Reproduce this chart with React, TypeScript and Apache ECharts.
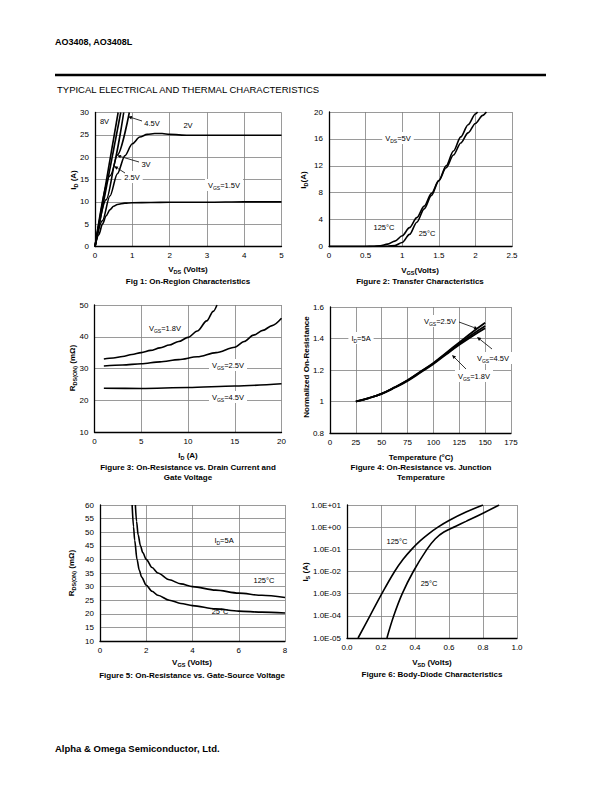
import React, { useEffect, useRef } from "react";
import * as echarts from "echarts";

const FONT = '"Liberation Sans", Arial, Helvetica, sans-serif';

// ---------- Fig 1: On-Region Characteristics (VDS V, ID A) ----------
const f1_8V = [[0, 0], [0.62, 30]];
const f1_4V5 = [[0, 0], [0.69, 30]];
const f1_3V = [[0, 0], [0.4, 15.8], [0.77, 30]];
const f1_2V5 = [[0, 0], [0.3, 10.5], [0.6, 20.5], [0.92, 30]];
const f1_2V = [[0, 0], [0.2, 5.8], [0.4, 11.3], [0.6, 16.3], [0.8, 20.3], [1.0, 23], [1.2, 24.5], [1.4, 25.1], [1.6, 25.3], [1.8, 25.3], [2.0, 25.1], [2.5, 24.9], [3, 24.9], [4, 24.9], [5, 24.9]];
const f1_1V5 = [[0, 0], [0.1, 2.6], [0.2, 5], [0.3, 6.9], [0.4, 8.2], [0.5, 9], [0.6, 9.4], [0.8, 9.7], [1.0, 9.8], [1.5, 9.85], [2, 9.9], [3, 9.9], [4, 10], [5, 10]];

// ---------- Fig 2: Transfer Characteristics (VGS V, ID A) ----------
const f2_25C = [[0, 0], [0.6, 0], [0.8, 0.03], [0.9, 0.15], [1.0, 0.6], [1.1, 1.8], [1.2, 3.6], [1.3, 5.6], [1.4, 7.6], [1.5, 9.8], [1.6, 12.0], [1.7, 14.2], [1.8, 16.3], [1.9, 18.1], [2.0, 19.7], [2.03, 20]];
const f2_125C = [[0, 0], [0.5, 0], [0.6, 0.03], [0.7, 0.12], [0.8, 0.35], [0.9, 0.8], [1.0, 1.6], [1.1, 2.8], [1.2, 4.3], [1.3, 6.0], [1.4, 7.9], [1.5, 9.8], [1.6, 11.7], [1.7, 13.6], [1.8, 15.4], [1.9, 16.9], [2.0, 18.3], [2.1, 19.5], [2.15, 20]];

// ---------- Fig 3: RDS(ON) vs ID (A, mOhm) ----------
const f3_1V8 = [[1, 33], [2, 33.3], [3, 33.8], [4, 34.4], [5, 35], [6, 35.7], [7, 36.5], [8, 37.4], [9, 38.5], [10, 39.8], [11, 41.8], [12, 45], [12.7, 48], [13.1, 50]];
const f3_2V5 = [[1, 30.8], [3, 31.1], [5, 31.5], [7, 32.1], [9, 32.8], [11, 33.7], [13, 35], [15, 36.7], [16, 38.5], [17, 40.5], [18, 42], [19, 43.5], [20, 45.8]];
const f3_4V5 = [[1, 23.8], [5, 23.7], [10, 24], [15, 24.5], [20, 25.2]];

// ---------- Fig 4: Normalized RDS(ON) vs Temperature ----------
const f4_temp = [25, 37.5, 50, 62.5, 75, 87.5, 100, 112.5, 125, 137.5, 150];
const f4_2V5 = [1, 1.022, 1.05, 1.09, 1.135, 1.19, 1.245, 1.31, 1.375, 1.44, 1.5];
const f4_4V5 = [1, 1.022, 1.05, 1.09, 1.135, 1.188, 1.242, 1.305, 1.367, 1.426, 1.48];
const f4_1V8 = [1, 1.021, 1.048, 1.087, 1.131, 1.184, 1.238, 1.3, 1.36, 1.415, 1.465];

// ---------- Fig 5: RDS(ON) vs VGS ----------
const f5_25C = [[1.39, 60], [1.45, 52], [1.5, 47], [1.6, 40], [1.7, 36], [1.8, 33.5], [2, 30.5], [2.25, 28.3], [2.5, 26.8], [3, 25], [3.5, 23.8], [4, 23], [5, 21.8], [6, 21], [7, 20.6], [8, 20.3]];
const f5_125C = [[1.53, 60], [1.58, 54], [1.65, 49], [1.75, 45], [1.85, 42.5], [2, 40], [2.25, 37], [2.5, 35], [3, 32.5], [3.5, 31], [4, 30], [5, 28.7], [6, 27.6], [7, 26.8], [8, 26]];

// ---------- Fig 6: Body-Diode (VSD V, IS A) ----------
const f6_125C = [[0.065, 1e-5], [0.135, 1e-4], [0.205, 1e-3], [0.28, 1e-2], [0.33, 0.0355], [0.38, 0.1], [0.43, 0.24], [0.48, 0.5], [0.535, 1], [0.6, 2], [0.7, 4.8], [0.8, 10]];
const f6_25C = [[0.235, 1e-5], [0.275, 1e-4], [0.325, 1e-3], [0.39, 1e-2], [0.47, 0.1], [0.52, 0.302], [0.57, 0.603], [0.64, 1.1], [0.7, 1.82], [0.8, 4.27], [0.895, 10]];

const GRIDS = [
  { left: 95, top: 112.5, width: 186.5, height: 134 },
  { left: 329, top: 112, width: 183, height: 134.5 },
  { left: 94.5, top: 305, width: 187, height: 127 },
  { left: 330, top: 307, width: 181, height: 126 },
  { left: 100, top: 505, width: 185, height: 136 },
  { left: 347, top: 505, width: 170, height: 133 },
];

const axisCommon = {
  axisLine: { show: true, onZero: false, lineStyle: { color: "#000", width: 1.3 } },
  axisTick: { show: false },
  splitLine: { show: true, lineStyle: { color: "#808080", width: 0.8 } },
  axisLabel: { color: "#000", fontSize: 8, fontFamily: FONT },
};

function xAx(i: number, min: number, max: number, interval: number, extra: any = {}) {
  return { type: "value", gridIndex: i, min, max, interval, ...axisCommon, axisLabel: { ...axisCommon.axisLabel, margin: 5, ...(extra.axisLabel || {}) } };
}
function yAx(i: number, min: number, max: number, interval: number, extra: any = {}) {
  return { type: "value", gridIndex: i, min, max, interval, ...axisCommon, axisLabel: { ...axisCommon.axisLabel, margin: 6, ...(extra.axisLabel || {}) } };
}

function line(i: number, data: any[], width = 1.6, smooth: number = 0.3, mono = true) {
  return {
    type: "line",
    xAxisIndex: i,
    yAxisIndex: i,
    data,
    showSymbol: false,
    symbol: "none",
    smooth,
    smoothMonotone: mono ? "x" : undefined,
    lineStyle: { color: "#000", width },
    z: 3,
    silent: true,
  };
}

const richBold = {
  n: { fontSize: 8, fontWeight: "bold", fontFamily: FONT, fill: "#000", lineHeight: 11 },
  s: { fontSize: 5.5, fontWeight: "bold", fontFamily: FONT, fill: "#000", lineHeight: 6, verticalAlign: "bottom" },
};
const richReg = {
  n: { fontSize: 7.5, fontFamily: FONT, fill: "#000", lineHeight: 10 },
  s: { fontSize: 5, fontFamily: FONT, fill: "#000", lineHeight: 5, verticalAlign: "bottom" },
};

function boldText(x: number, y: number, text: string, rot = 0) {
  return {
    type: "text",
    x,
    y,
    rotation: rot,
    z: 5,
    style: { text, rich: richBold, align: "center", verticalAlign: "middle", fontFamily: FONT, fontSize: 8, fontWeight: "bold", fill: "#000" },
  };
}
function ann(x: number, y: number, text: string, bg = true) {
  return {
    type: "text",
    x,
    y,
    z: 1,
    style: {
      text,
      rich: richReg,
      align: "center",
      verticalAlign: "middle",
      fontFamily: FONT,
      fontSize: 7.5,
      fill: "#000",
      backgroundColor: bg ? "#fff" : undefined,
      padding: bg ? [1, 3] : 0,
    },
  };
}
function arrow(x1: number, y1: number, x2: number, y2: number) {
  const a = Math.atan2(y2 - y1, x2 - x1);
  const L = 4, W = 1.8;
  const bx = x2 - L * Math.cos(a), by = y2 - L * Math.sin(a);
  const px = -Math.sin(a) * W, py = Math.cos(a) * W;
  return [
    { type: "line", z: 4, shape: { x1, y1, x2: bx, y2: by }, style: { stroke: "#000", lineWidth: 0.8 } },
    { type: "polygon", z: 4, shape: { points: [[x2, y2], [bx + px, by + py], [bx - px, by - py]] }, style: { fill: "#000" } },
  ];
}

function expLabel(v: number) {
  const e = Math.round(Math.log10(v));
  return "1.0E" + (e < 0 ? "-" : "+") + String(Math.abs(e)).padStart(2, "0");
}

export default function App() {
  const ref = useRef<HTMLDivElement>(null);
  useEffect(() => {
    if (!ref.current) return;
    const chart = echarts.init(ref.current, undefined, { renderer: "svg" });
    const graphic: any[] = [
      // header
      { type: "text", x: 55, y: 42, style: { text: "AO3408, AO3408L", fontFamily: FONT, fontSize: 9, fontWeight: "bold", fill: "#000", verticalAlign: "middle" } },
      { type: "line", shape: { x1: 55, y1: 75, x2: 546, y2: 75 }, style: { stroke: "#000", lineWidth: 2.5 } },
      { type: "text", x: 57, y: 89, style: { text: "TYPICAL ELECTRICAL AND THERMAL CHARACTERISTICS", fontFamily: FONT, fontSize: 9.5, fill: "#000", verticalAlign: "middle" } },
      { type: "text", x: 55, y: 748, style: { text: "Alpha & Omega Semiconductor, Ltd.", fontFamily: FONT, fontSize: 9.5, fontWeight: "bold", fill: "#000", verticalAlign: "middle" } },

      // Fig 1 titles
      boldText(188, 269, "{n|V}{s|DS}{n| (Volts)}"),
      boldText(188, 281, "{n|Fig 1: On-Region Characteristics}"),
      boldText(73, 180, "{n|I}{s|D}{n| (A)}", Math.PI / 2),
      // Fig 1 annotations
      ann(104.5, 121, "{n|8V}", false),
      ann(152, 123, "{n|4.5V}"),
      ann(188, 125, "{n|2V}"),
      ann(146, 164, "{n|3V}"),
      ann(132, 177, "{n|2.5V}"),
      ann(224, 185, "{n|V}{s|GS}{n|=1.5V}"),
      ...arrow(142, 121, 128, 116.5),
      ...arrow(139, 162, 117, 155.5),
      ...arrow(125, 173, 114, 166),

      // Fig 2
      boldText(420, 270, "{n|V}{s|GS}{n|(Volts)}"),
      boldText(420, 281, "{n|Figure 2: Transfer Characteristics}"),
      boldText(303, 180, "{n|I}{s|D}{n|(A)}", Math.PI / 2),
      ann(398, 138, "{n|V}{s|DS}{n|=5V}"),
      ann(384, 227, "{n|125°C}", false),
      ann(427, 233, "{n|25°C}", false),

      // Fig 3
      boldText(188, 455, "{n|I}{s|D}{n| (A)}"),
      boldText(188, 467, "{n|Figure 3: On-Resistance vs. Drain Current and}"),
      boldText(188, 477.5, "{n|Gate Voltage}"),
      boldText(72, 368, "{n|R}{s|DS(ON)}{n| (mΩ)}", Math.PI / 2),
      ann(165, 328, "{n|V}{s|GS}{n|=1.8V}"),
      ann(228, 365, "{n|V}{s|GS}{n|=2.5V}"),
      ann(228, 397, "{n|V}{s|GS}{n|=4.5V}"),

      // Fig 4
      boldText(421, 457, "{n|Temperature (°C)}"),
      boldText(421, 467, "{n|Figure 4: On-Resistance vs. Junction}"),
      boldText(421, 477, "{n|Temperature}"),
      boldText(306, 367, "{n|Normalized On-Resistance}", Math.PI / 2),
      ann(361, 338, "{n|I}{s|D}{n|=5A}"),
      ann(440, 321, "{n|V}{s|GS}{n|=2.5V}"),
      ann(493, 358, "{n|V}{s|GS}{n|=4.5V}"),
      ann(474, 376, "{n|V}{s|GS}{n|=1.8V}"),
      ...arrow(459, 322, 478, 329),
      ...arrow(492, 349, 477, 337),
      ...arrow(466, 369, 452, 355),

      // Fig 5
      boldText(192, 662, "{n|V}{s|GS}{n| (Volts)}"),
      boldText(192, 675, "{n|Figure 5: On-Resistance vs. Gate-Source Voltage}"),
      boldText(71, 573, "{n|R}{s|DS(ON)}{n| (mΩ)}", Math.PI / 2),
      ann(224, 540, "{n|I}{s|D}{n|=5A}"),
      ann(264, 580, "{n|125°C}", false),
      ann(220, 611, "{n|25°C}", false),

      // Fig 6
      boldText(432, 662, "{n|V}{s|SD}{n| (Volts)}"),
      boldText(432, 674, "{n|Figure 6: Body-Diode Characteristics}"),
      boldText(305, 572, "{n|I}{s|S}{n| (A)}", Math.PI / 2),
      ann(397, 541, "{n|125°C}", false),
      ann(429, 583, "{n|25°C}", false),
    ];

    chart.setOption({
      animation: false,
      grid: GRIDS.map((g) => ({ ...g, containLabel: false })),
      xAxis: [
        xAx(0, 0, 5, 1),
        xAx(1, 0, 2.5, 0.5),
        xAx(2, 0, 20, 5),
        xAx(3, 0, 175, 25),
        xAx(4, 0, 8, 2),
        xAx(5, 0, 1, 0.2, { axisLabel: { formatter: (v: number) => v.toFixed(1) } }),
      ],
      yAxis: [
        yAx(0, 0, 30, 5),
        yAx(1, 0, 20, 4),
        yAx(2, 10, 50, 10),
        yAx(3, 0.8, 1.6, 0.2),
        yAx(4, 10, 60, 5),
        {
          type: "log",
          logBase: 10,
          gridIndex: 5,
          min: 1e-5,
          max: 10,
          splitNumber: 6,
          ...axisCommon,
          axisLabel: { ...axisCommon.axisLabel, margin: 6, formatter: expLabel },
        },
      ],
      series: [
        line(0, f1_8V),
        line(0, f1_4V5),
        line(0, f1_3V),
        line(0, f1_2V5),
        line(0, f1_2V),
        line(0, f1_1V5),
        line(1, f2_25C),
        line(1, f2_125C),
        line(2, f3_1V8),
        line(2, f3_2V5),
        line(2, f3_4V5),
        line(3, f4_temp.map((t, k) => [t, f4_2V5[k]]), 1.8, 0.4, false),
        line(3, f4_temp.map((t, k) => [t, f4_4V5[k]]), 1.8, 0.4, false),
        line(3, f4_temp.map((t, k) => [t, f4_1V8[k]]), 1.8, 0.4, false),
        line(4, f5_25C),
        line(4, f5_125C),
        line(5, f6_125C, 1.6, 0.4, false),
        line(5, f6_25C, 1.6, 0.4, false),
      ],
      graphic,
    });
    return () => chart.dispose();
  }, []);
  return <div ref={ref} style={{ position: "absolute", left: 0, top: 0, width: 612, height: 792, background: "#fff" }} />;
}
